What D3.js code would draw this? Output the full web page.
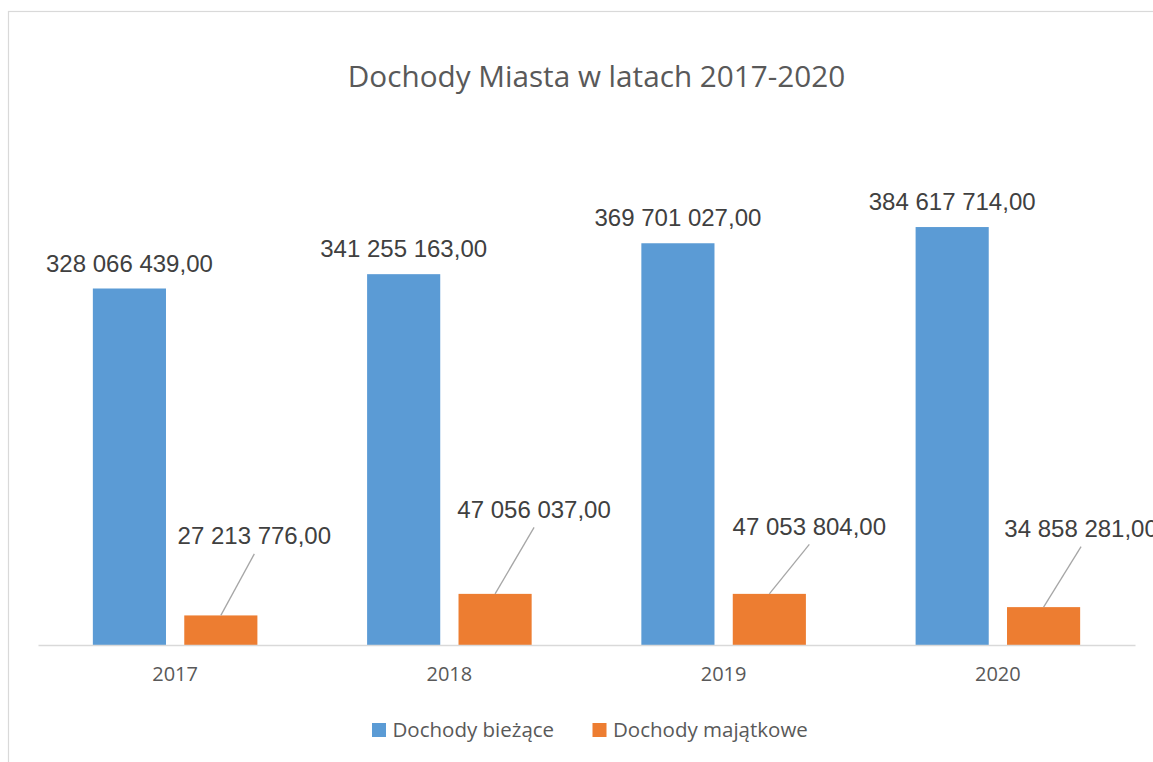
<!DOCTYPE html>
<html>
<head>
<meta charset="utf-8">
<script src="https://cdn.jsdelivr.net/npm/d3@7"></script>
<style>
  body { margin: 0; background: #fff; }
</style>
</head>
<body>
<div id="chart"></div>
<script>
const years = ["2017", "2018", "2019", "2020"];
const seriesNames = ["Dochody bieżące", "Dochody majątkowe"];
const biezace = [328066439, 341255163, 369701027, 384617714];
const majatkowe = [27213776, 47056037, 47053804, 34858281];
const chartTitle = "Dochody Miasta w latach 2017-2020";

// where the orange labels were dragged to in the original (offset from bar top centre)
const orangeLabelDx = [33.5, 39, 40, 37.5];
const orangeLabelDy = [-71, -76, -59, -70];

const w = 1153;
const h = 762;
const colors = ["#5B9BD5", "#ED7D31"];

const pl = d3.formatLocale({ decimal: ",", thousands: " ", grouping: [3], currency: ["", ""] });
const fmt = pl.format(",.2f");

const svg = d3.select("#chart")
  .append("svg")
  .attr("width", w)
  .attr("height", h);

svg.append("rect")
  .attr("x", 8.5)
  .attr("y", 11.5)
  .attr("width", 1200)
  .attr("height", 800)
  .attr("fill", "white")
  .attr("stroke", "#d9d9d9")
  .attr("stroke-width", 1.2);

svg.append("text")
  .attr("x", 596.5)
  .attr("y", 86.5)
  .attr("text-anchor", "middle")
  .style("font-family", "Open Sans")
  .style("font-size", "29.7px")
  .style("fill", "#595959")
  .text(chartTitle);

const xScale = d3.scaleBand()
  .domain(years)
  .range([38, 1135]);

const xSub = d3.scaleBand()
  .domain(seriesNames)
  .range([0, xScale.bandwidth()])
  .paddingInner(0.2)
  .paddingOuter(0.6);

const yScale = d3.scaleLinear()
  .domain([0, 450000000])
  .range([645, 156]);

const rows = years.map((y, i) => ({ year: y, i: i, vals: [biezace[i], majatkowe[i]] }));

const groups = svg.selectAll("g.year")
  .data(rows)
  .enter()
  .append("g")
  .attr("class", "year")
  .attr("transform", d => "translate(" + xScale(d.year) + ",0)");

groups.selectAll("rect")
  .data(d => d.vals.map((v, k) => ({ name: seriesNames[k], v: v, k: k })))
  .enter()
  .append("rect")
  .attr("x", d => xSub(d.name))
  .attr("y", d => yScale(d.v))
  .attr("width", xSub.bandwidth())
  .attr("height", d => yScale(0) - yScale(d.v))
  .attr("fill", d => colors[d.k]);

// axis line + year labels
const xAxis = d3.axisBottom(xScale).tickSize(0).tickPadding(22);
const axisG = svg.append("g")
  .attr("transform", "translate(0," + yScale(0) + ")")
  .call(xAxis);
axisG.select(".domain").attr("stroke", "#d9d9d9").attr("stroke-width", 1.5);
axisG.selectAll("text")
  .style("font-family", "Open Sans")
  .style("font-size", "20px")
  .style("fill", "#595959");

// labels on blue bars
groups.append("text")
  .attr("x", xSub(seriesNames[0]) + xSub.bandwidth() / 2)
  .attr("y", d => yScale(d.vals[0]) - 17)
  .attr("text-anchor", "middle")
  .style("font-family", "Liberation Sans, Arial")
  .style("font-size", "24px")
  .style("fill", "#404040")
  .text(d => fmt(d.vals[0]));

// labels on orange bars with leader lines
const oc = xSub(seriesNames[1]) + xSub.bandwidth() / 2;
groups.append("line")
  .attr("x1", oc)
  .attr("y1", d => yScale(d.vals[1]))
  .attr("x2", d => oc + orangeLabelDx[d.i])
  .attr("y2", d => yScale(d.vals[1]) + orangeLabelDy[d.i] + 9.5)
  .attr("stroke", "#a6a6a6")
  .attr("stroke-width", 1.3);

groups.append("text")
  .attr("x", d => oc + orangeLabelDx[d.i])
  .attr("y", d => yScale(d.vals[1]) + orangeLabelDy[d.i])
  .attr("text-anchor", "middle")
  .style("font-family", "Liberation Sans, Arial")
  .style("font-size", "24px")
  .style("fill", "#404040")
  .text(d => fmt(d.vals[1]));

// legend
const legendX = [372, 592.5];
const legend = svg.selectAll("g.legend")
  .data(seriesNames)
  .enter()
  .append("g")
  .attr("class", "legend")
  .attr("transform", (d, i) => "translate(" + legendX[i] + ",723)");

legend.append("rect")
  .attr("width", 14)
  .attr("height", 14)
  .attr("fill", (d, i) => colors[i]);

legend.append("text")
  .attr("x", 20.5)
  .attr("y", 14)
  .style("font-family", "Open Sans")
  .style("font-size", "20.5px")
  .style("fill", "#595959")
  .text(d => d);
</script>
</body>
</html>
